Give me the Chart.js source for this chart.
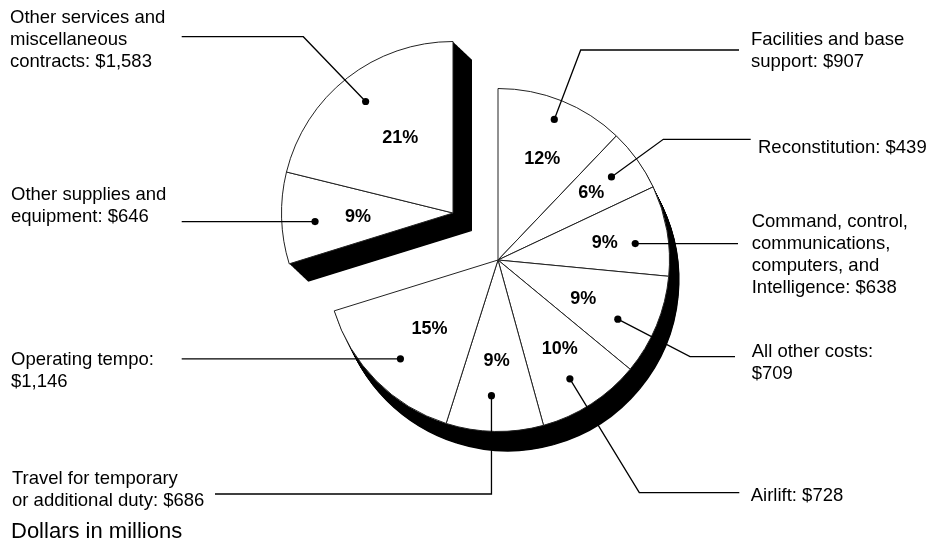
<!DOCTYPE html>
<html>
<head>
<meta charset="utf-8">
<script src="https://cdn.jsdelivr.net/npm/chart.js@4.4.1/dist/chart.umd.min.js"></script>
<style>
  html, body { margin: 0; padding: 0; background: #ffffff; }
  canvas { display: block; }
</style>
</head>
<body>
<canvas id="chart" width="944" height="542"></canvas>
<script>
// ---------------- DATA ----------------
const categories = [
  'Facilities and base support',
  'Reconstitution',
  'Command, control, communications, computers, and Intelligence',
  'All other costs',
  'Airlift',
  'Travel for temporary or additional duty',
  'Operating tempo',
  'Other supplies and equipment',
  'Other services and miscellaneous contracts'
];
const values = [907, 439, 638, 709, 728, 686, 1146, 646, 1583]; // dollars in millions
const explodedIndices = [7, 8];
const footnote = 'Dollars in millions';

// ---------------- LAYOUT / STYLE ----------------
const FONT = "'Liberation Sans', Arial, Helvetica, sans-serif";
const LABEL_SIZE = 18.5;
const LINE_H = 22;
const EXPLODE_SHIFT = { x: -45, y: -47 };
const DEPTH_MAIN = { x: 10, y: 20 };
const DEPTH_EXPLODED = { x: 19, y: 18 };
// label wrapping: break after word counts; valueBreak puts the amount on its own line
const labelWrap = [
  { breaks: [3] },
  { breaks: [] },
  { breaks: [2, 3, 5] },
  { breaks: [], valueBreak: true },
  { breaks: [] },
  { breaks: [3] },
  { breaks: [], valueBreak: true },
  { breaks: [3] },
  { breaks: [3, 4] }
];
// placement within slice: t = fraction of slice angle, f = fraction of radius
const pctPlace = [
  { t: 0.54, f: 0.645 }, { t: 0.505, f: 0.669 }, { t: 0.53, f: 0.63 },
  { t: 0.56, f: 0.546 }, { t: 0.45, f: 0.632 }, { t: 0.49, f: 0.591 },
  { t: 0.495, f: 0.566 }, { t: 0.48, f: 0.555 }, { t: 0.54, f: 0.535 }
];
const dotPlace = [
  { t: 0.5, f: 0.883 }, { t: 0.48, f: 0.82 }, { t: 0.6, f: 0.806 },
  { t: 0.61, f: 0.779 }, { t: 0.55, f: 0.81 }, { t: 0.55, f: 0.792 },
  { t: 0.49, f: 0.81 }, { t: 0.44, f: 0.806 }, { t: 0.5, f: 0.826 }
];
const leaderLayout = [
  { elbow: { x: 580.7, y: 50 }, endX: 739, textX: 751, baseline: 45 },
  { elbow: { x: 663.3, y: 139.3 }, endX: 750.7, textX: 758, baseline: 152.7 },
  { elbow: null, endX: 738, textX: 751.7, baseline: 227.3 },
  { elbow: { x: 690, y: 356.7 }, endX: 735, textX: 751.7, baseline: 357.3 },
  { elbow: { x: 639.3, y: 492.7 }, endX: 739.3, textX: 750.7, baseline: 500.7 },
  { elbow: { x: 'dot', y: 494 }, endX: 215, textX: 12, baseline: 484 },
  { elbow: null, endX: 181.7, textX: 11, baseline: 365 },
  { elbow: null, endX: 181.7, textX: 11, baseline: 200 },
  { elbow: { x: 303.3, y: 36.7 }, endX: 181.7, textX: 10, baseline: 23.3 }
];

// ---------------- HELPERS ----------------
const total = values.reduce((a, b) => a + b, 0);
const pctText = values.map(v => Math.round(v / total * 100) + '%');
const money = v => '$' + v.toLocaleString('en-US');
function labelLinesFor(i) {
  const words = categories[i].split(' ');
  const wrap = labelWrap[i];
  const lines = [];
  let start = 0;
  wrap.breaks.forEach(b => { lines.push(words.slice(start, b).join(' ')); start = b; });
  lines.push(words.slice(start).join(' '));
  if (wrap.valueBreak) {
    lines[lines.length - 1] += ':';
    lines.push(money(values[i]));
  } else {
    lines[lines.length - 1] += ': ' + money(values[i]);
  }
  return lines;
}

// ---------------- PLUGIN ----------------
const explodedSet = new Set(explodedIndices);
const pie3d = {
  id: 'pie3d',
  afterDatasetUpdate(chart, args) {
    args.meta.data.forEach((arc, i) => {
      const ex = explodedSet.has(i);
      arc.$shift = ex ? EXPLODE_SHIFT : { x: 0, y: 0 };
      arc.$depth = ex ? DEPTH_EXPLODED : DEPTH_MAIN;
      arc.draw = function (ctx, area) {
        ctx.save();
        ctx.translate(this.$shift.x, this.$shift.y);
        Chart.ArcElement.prototype.draw.call(this, ctx, area);
        ctx.restore();
      };
    });
  },
  beforeDatasetsDraw(chart) {
    const ctx = chart.ctx;
    const meta = chart.getDatasetMeta(0);
    ctx.save();
    ctx.fillStyle = '#000000';
    meta.data.forEach(arc => {
      const steps = 30;
      for (let s = 1; s <= steps; s++) {
        const ox = arc.x + arc.$shift.x + arc.$depth.x * s / steps;
        const oy = arc.y + arc.$shift.y + arc.$depth.y * s / steps;
        ctx.beginPath();
        ctx.moveTo(ox, oy);
        ctx.arc(ox, oy, arc.outerRadius, arc.startAngle, arc.endAngle);
        ctx.closePath();
        ctx.fill();
      }
    });
    ctx.restore();
  },
  afterDatasetsDraw(chart) {
    const ctx = chart.ctx;
    const meta = chart.getDatasetMeta(0);
    ctx.save();
    meta.data.forEach((arc, i) => {
      const cx = arc.x + arc.$shift.x, cy = arc.y + arc.$shift.y;
      const r = arc.outerRadius;
      const ang = t => arc.startAngle + (arc.endAngle - arc.startAngle) * t;
      // percent label
      const pa = ang(pctPlace[i].t), pr = r * pctPlace[i].f;
      ctx.fillStyle = '#000';
      ctx.font = 'bold 18px ' + FONT;
      ctx.textAlign = 'center';
      ctx.textBaseline = 'middle';
      ctx.fillText(pctText[i], cx + Math.cos(pa) * pr, cy + Math.sin(pa) * pr);
      // dot
      const da = ang(dotPlace[i].t), dr = r * dotPlace[i].f;
      const dx = cx + Math.cos(da) * dr, dy = cy + Math.sin(da) * dr;
      // leader line
      const L = leaderLayout[i];
      ctx.strokeStyle = '#000';
      ctx.lineWidth = 1.3;
      ctx.beginPath();
      ctx.moveTo(dx, dy);
      let ey = dy;
      if (L.elbow) {
        const ex = L.elbow.x === 'dot' ? dx : L.elbow.x;
        ctx.lineTo(ex, L.elbow.y);
        ey = L.elbow.y;
      }
      ctx.lineTo(L.endX, ey);
      ctx.stroke();
      ctx.beginPath();
      ctx.arc(dx, dy, 3.6, 0, Math.PI * 2);
      ctx.fill();
      // category label
      ctx.font = LABEL_SIZE + 'px ' + FONT;
      ctx.textAlign = 'left';
      ctx.textBaseline = 'alphabetic';
      labelLinesFor(i).forEach((ln, k) => ctx.fillText(ln, L.textX, L.baseline + k * LINE_H));
    });
    ctx.font = '22px ' + FONT;
    ctx.textAlign = 'left';
    ctx.textBaseline = 'alphabetic';
    ctx.fillText(footnote, 11, 538);
    ctx.restore();
  }
};

// ---------------- CHART ----------------
new Chart(document.getElementById('chart'), {
  type: 'pie',
  data: {
    labels: categories,
    datasets: [{
      data: values,
      backgroundColor: '#ffffff',
      borderColor: '#222222',
      borderWidth: 1
    }]
  },
  options: {
    responsive: false,
    devicePixelRatio: 1,
    animation: false,
    events: [],
    layout: { padding: { left: 326, right: 274, top: 88, bottom: 110 } },
    plugins: {
      legend: { display: false },
      tooltip: { enabled: false }
    }
  },
  plugins: [pie3d]
});
</script>
</body>
</html>
